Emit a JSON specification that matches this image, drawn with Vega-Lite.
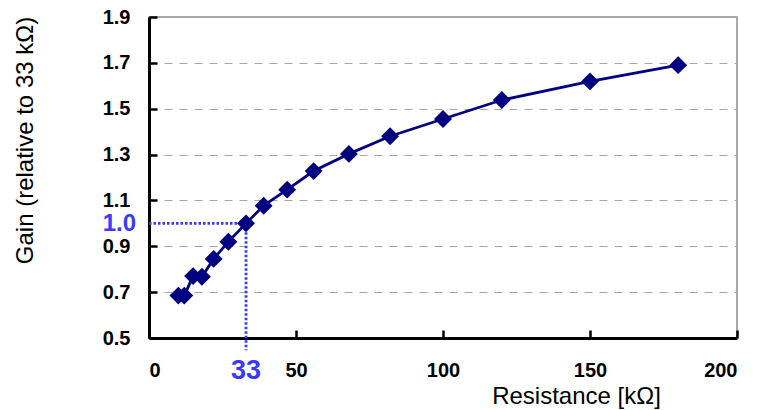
{
  "$schema": "https://vega.github.io/schema/vega-lite/v6.json",
  "width": 588,
  "height": 321,
  "autosize": "none",
  "padding": {"left": 149, "top": 17, "right": 21, "bottom": 72},
  "background": "white",
  "config": {
    "view": {"stroke": "#8c8c8c", "strokeWidth": 1.5},
    "font": "Liberation Sans"
  },
  "datasets": {
    "gain": [
      {"r": 10, "g": 0.685},
      {"r": 12, "g": 0.685},
      {"r": 15, "g": 0.77},
      {"r": 18, "g": 0.767},
      {"r": 22, "g": 0.845},
      {"r": 27, "g": 0.92},
      {"r": 33, "g": 1.0},
      {"r": 39, "g": 1.077},
      {"r": 47, "g": 1.147},
      {"r": 56, "g": 1.228},
      {"r": 68, "g": 1.303},
      {"r": 82, "g": 1.38},
      {"r": 100, "g": 1.455},
      {"r": 120, "g": 1.538},
      {"r": 150, "g": 1.619},
      {"r": 180, "g": 1.69}
    ],
    "refs": [
      {"x1": 0, "x2": 33, "y1": 1.0, "y2": 1.0},
      {"x1": 33, "x2": 33, "y1": 1.0, "y2": 0.447}
    ],
    "reflabels": [
      {"x": 0, "y": 1.0, "label": "1.0", "kind": "y"},
      {"x": 33, "y": 0.5, "label": "33", "kind": "x"}
    ]
  },
  "layer": [
    {
      "data": {"name": "refs"},
      "mark": {"type": "rule", "color": "#3a3aff", "strokeWidth": 2.8, "strokeDash": [2.5, 2]},
      "encoding": {
        "x": {"field": "x1", "type": "quantitative", "scale": {"domain": [0, 200]},
          "axis": {
            "values": [0, 50, 100, 150, 200],
            "title": "Resistance [kΩ]",
            "titleFont": "Liberation Sans", "titleFontSize": 24, "titleFontWeight": "normal", "titleColor": "black",
            "titleX": 427, "titleY": 58, "titleBaseline": "middle", "titleAlign": "center",
            "labelFont": "Liberation Sans", "labelFontSize": 20, "labelFontWeight": "bold", "labelColor": "black",
            "labelPadding": 30,
            "domainColor": "black", "domainWidth": 3,
            "tickColor": "black", "tickWidth": 2.5, "tickSize": -8,
            "grid": false
          }
        },
        "x2": {"field": "x2"},
        "y": {"field": "y1", "type": "quantitative", "scale": {"domain": [0.5, 1.9]},
          "axis": {
            "values": [0.5, 0.7, 0.9, 1.1, 1.3, 1.5, 1.7, 1.9],
            "format": ".1f",
            "title": "Gain (relative to 33 kΩ)",
            "titleFont": "Liberation Sans", "titleFontSize": 24, "titleFontWeight": "normal", "titleColor": "black",
            "titleX": -124, "titleY": 123, "titleBaseline": "middle", "titleAlign": "center", "titleAngle": -90,
            "labelFont": "Liberation Sans", "labelFontSize": 20, "labelFontWeight": "bold", "labelColor": "black",
            "labelPadding": 27,
            "domainColor": "black", "domainWidth": 3,
            "tickColor": "black", "tickWidth": 2.5, "tickSize": -8,
            "grid": true, "gridColor": "#a6a6a6", "gridDash": [8, 7], "gridWidth": 1.2
          }
        },
        "y2": {"field": "y2"}
      }
    },
    {
      "data": {"name": "gain"},
      "mark": {"type": "line", "color": "#000080", "strokeWidth": 2.8},
      "encoding": {
        "x": {"field": "r", "type": "quantitative"},
        "y": {"field": "g", "type": "quantitative"}
      }
    },
    {
      "data": {"name": "gain"},
      "mark": {"type": "point", "shape": "diamond", "filled": true, "color": "#000080", "size": 320, "opacity": 1},
      "encoding": {
        "x": {"field": "r", "type": "quantitative"},
        "y": {"field": "g", "type": "quantitative"}
      }
    },
    {
      "data": {"name": "reflabels"},
      "transform": [{"filter": "datum.kind == 'y'"}],
      "mark": {"type": "text", "align": "right", "baseline": "middle", "dx": -13, "dy": 1, "font": "Liberation Sans", "fontSize": 24, "fontWeight": "bold", "color": "#3a3aff"},
      "encoding": {
        "x": {"field": "x", "type": "quantitative"},
        "y": {"field": "y", "type": "quantitative"},
        "text": {"field": "label"}
      }
    },
    {
      "data": {"name": "reflabels"},
      "transform": [{"filter": "datum.kind == 'x'"}],
      "mark": {"type": "text", "align": "center", "baseline": "middle", "dy": 33, "font": "Liberation Sans", "fontSize": 27, "fontWeight": "bold", "color": "#3a3aff"},
      "encoding": {
        "x": {"field": "x", "type": "quantitative"},
        "y": {"field": "y", "type": "quantitative"},
        "text": {"field": "label"}
      }
    }
  ]
}
